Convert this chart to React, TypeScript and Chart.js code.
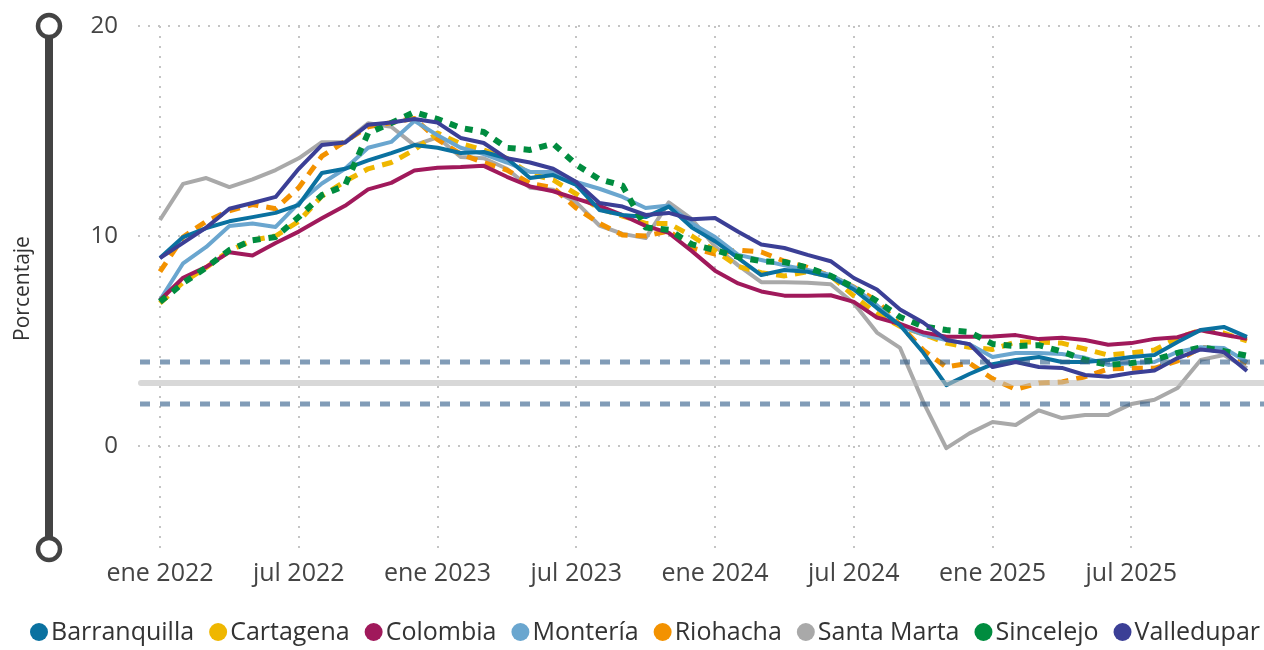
import { useEffect, useRef } from "react";
import { Chart, registerables } from "chart.js";

Chart.register(...registerables);

// ---- data -----------------------------------------------------------------
const monthIndex = Array.from({ length: 48 }, (_, i) => i); // ene 2022 .. dic 2025
const tickPositions = [0, 6, 12, 18, 24, 30, 36, 42];
const tickLabels = ["ene 2022", "jul 2022", "ene 2023", "jul 2023", "ene 2024", "jul 2024", "ene 2025", "jul 2025"];
const yTicks = [0, 10, 20];
const referenceLines = [4, 3, 2];

const barranquilla = [8.95, 9.95, 10.38, 10.7, 10.9, 11.1, 11.48, 13.0, 13.2, 13.6, 13.95, 14.33, 14.2, 13.95, 14.0, 13.7, 12.76, 12.9, 12.43, 11.24, 11.0, 10.9, 11.4, 10.4, 9.75, 8.95, 8.14, 8.38, 8.3, 8.05, 7.45, 6.57, 5.75, 4.45, 2.9, 3.43, 3.9, 4.1, 4.24, 4.0, 4.0, 4.1, 4.24, 4.33, 4.95, 5.52, 5.67, 5.2];
const cartagena = [6.8, 7.8, 8.5, 9.3, 9.8, 10.0, 10.7, 11.9, 12.6, 13.2, 13.5, 14.1, 14.9, 14.4, 14.1, 13.7, 12.95, 12.67, 12.0, 11.3, 10.95, 10.6, 10.6, 10.0, 9.3, 8.55, 8.25, 8.1, 8.3, 8.1, 7.15, 6.3, 5.7, 5.33, 4.9, 4.7, 4.6, 4.95, 4.95, 4.9, 4.62, 4.33, 4.43, 4.57, 5.14, 5.52, 5.38, 5.0];
const colombia = [6.94, 8.01, 8.53, 9.23, 9.07, 9.67, 10.21, 10.84, 11.44, 12.22, 12.53, 13.12, 13.25, 13.28, 13.34, 12.82, 12.36, 12.13, 11.78, 11.43, 10.99, 10.48, 10.15, 9.28, 8.35, 7.74, 7.36, 7.16, 7.16, 7.18, 6.86, 6.12, 5.81, 5.41, 5.2, 5.2, 5.22, 5.28, 5.09, 5.16, 5.05, 4.82, 4.9, 5.1, 5.18, 5.51, 5.3, 5.1];
const monteria = [6.95, 8.7, 9.48, 10.48, 10.6, 10.43, 11.57, 12.5, 13.2, 14.2, 14.48, 15.48, 14.8, 14.2, 13.9, 13.5, 13.05, 13.05, 12.57, 12.25, 11.86, 11.33, 11.45, 10.6, 9.95, 9.1, 8.86, 8.6, 8.38, 8.14, 7.57, 6.7, 5.72, 5.3, 5.05, 4.85, 4.24, 4.43, 4.43, 4.38, 4.2, 3.86, 3.95, 4.0, 4.48, 4.7, 4.67, 4.0];
const riohacha = [8.3, 9.95, 10.7, 11.2, 11.5, 11.3, 12.3, 13.8, 14.5, 15.2, 15.4, 15.6, 14.6, 13.9, 13.5, 13.14, 12.5, 12.3, 11.33, 10.6, 10.05, 10.0, 10.24, 9.43, 9.14, 9.33, 9.24, 8.8, 8.5, 8.1, 7.57, 6.9, 5.76, 4.57, 3.76, 3.95, 3.2, 2.7, 3.0, 3.05, 3.3, 3.67, 3.7, 3.7, 4.05, 4.7, 4.57, 3.95];
const santaMarta = [10.76, 12.48, 12.76, 12.33, 12.7, 13.14, 13.7, 14.47, 14.47, 15.37, 15.2, 14.33, 14.7, 13.76, 13.7, 13.2, 12.3, 12.2, 11.6, 10.5, 10.1, 9.9, 11.6, 10.8, 9.5, 8.6, 7.8, 7.8, 7.77, 7.7, 6.8, 5.4, 4.67, 2.1, -0.1, 0.6, 1.14, 1.0, 1.7, 1.33, 1.48, 1.48, 2.0, 2.2, 2.76, 4.1, 4.33, 3.7];
const sincelejo = [6.86, 7.76, 8.5, 9.33, 9.8, 9.95, 10.9, 11.95, 12.4, 14.9, 15.38, 15.9, 15.57, 15.15, 14.95, 14.2, 14.1, 14.4, 13.4, 12.7, 12.4, 10.4, 10.3, 9.6, 9.33, 9.0, 8.8, 8.76, 8.5, 8.1, 7.57, 6.9, 6.14, 5.7, 5.52, 5.43, 4.86, 4.76, 4.8, 4.5, 4.1, 3.86, 3.95, 4.1, 4.43, 4.7, 4.52, 4.3];
const valledupar = [8.95, 9.67, 10.4, 11.3, 11.57, 11.86, 13.2, 14.33, 14.45, 15.3, 15.4, 15.57, 15.4, 14.67, 14.43, 13.7, 13.5, 13.2, 12.57, 11.57, 11.4, 11.0, 11.1, 10.8, 10.86, 10.2, 9.6, 9.43, 9.1, 8.8, 8.0, 7.45, 6.5, 5.88, 5.05, 4.85, 3.76, 4.0, 3.76, 3.72, 3.38, 3.3, 3.48, 3.6, 4.19, 4.6, 4.48, 3.57];

const seriesNames = ["Barranquilla", "Cartagena", "Colombia", "Montería", "Riohacha", "Santa Marta", "Sincelejo", "Valledupar"];
const seriesValues = [barranquilla, cartagena, colombia, monteria, riohacha, santaMarta, sincelejo, valledupar];

// ---- styles ---------------------------------------------------------------
const FONT = '"Open Sans", "Noto Sans", sans-serif';
const seriesStyles = [
  { color: "#0a71a0", width: 4, dash: [] as number[], order: 3 },
  { color: "#efb700", width: 5, dash: [11, 8], order: 6 },
  { color: "#a0195b", width: 4, dash: [], order: 4 },
  { color: "#6aa6cf", width: 4, dash: [], order: 5 },
  { color: "#f39200", width: 5, dash: [11, 8], order: 7 },
  { color: "#a9a9a9", width: 4, dash: [], order: 8 },
  { color: "#008c3f", width: 6, dash: [8, 8], order: 2 },
  { color: "#3b3f96", width: 4, dash: [], order: 1 },
];
const refStyles = [
  { color: "rgba(45,90,135,0.6)", width: 5, dash: [10, 10], cap: "butt" as CanvasLineCap },
  { color: "rgba(190,190,190,0.6)", width: 6, dash: [] as number[], cap: "round" as CanvasLineCap },
  { color: "rgba(45,90,135,0.6)", width: 5, dash: [10, 10], cap: "butt" as CanvasLineCap },
];

const refLinesPlugin = {
  id: "refLines",
  afterDatasetsDraw(chart: any) {
    const { ctx, chartArea, scales } = chart;
    ctx.save();
    referenceLines.forEach((v, i) => {
      const st = refStyles[i];
      const y = scales.y.getPixelForValue(v);
      ctx.beginPath();
      ctx.strokeStyle = st.color;
      ctx.lineWidth = st.width;
      ctx.setLineDash(st.dash);
      ctx.lineCap = st.cap;
      ctx.moveTo(chartArea.left + (st.cap === "round" ? 3 : 2), y);
      ctx.lineTo(chart.width, y);
      ctx.stroke();
    });
    ctx.restore();
  },
};

const axisBarPlugin = {
  id: "axisBar",
  afterDraw(chart: any) {
    const { ctx, scales } = chart;
    const top = scales.y.getPixelForValue(20);
    const bottom = scales.y.getPixelForValue(-5) - 2;
    const x = 49;
    const r = 11;
    ctx.save();
    ctx.strokeStyle = "#444444";
    ctx.lineWidth = 8;
    ctx.beginPath();
    ctx.moveTo(x, top + r);
    ctx.lineTo(x, bottom - r);
    ctx.stroke();
    ctx.lineWidth = 4.5;
    [top, bottom].forEach((cy) => {
      ctx.beginPath();
      ctx.arc(x, cy, r, 0, Math.PI * 2);
      ctx.fillStyle = "#ffffff";
      ctx.fill();
      ctx.stroke();
    });
    ctx.restore();
  },
};

const legendPlugin = {
  id: "bottomLegend",
  afterDraw(chart: any) {
    const { ctx } = chart;
    const datasets = chart.data.datasets;
    ctx.save();
    ctx.font = `25px ${FONT}`;
    const r = 9;
    const gapIn = 3;
    const gapOut = 15;
    const widths = datasets.map((d: any) => ctx.measureText(d.label).width);
    let total = 0;
    widths.forEach((w: number) => (total += 2 * r + gapIn + w));
    total += gapOut * (datasets.length - 1);
    let x = 28 + (1234 - total) / 2;
    const y = 632;
    ctx.textBaseline = "middle";
    ctx.textAlign = "left";
    datasets.forEach((d: any, i: number) => {
      ctx.beginPath();
      ctx.fillStyle = d.borderColor;
      ctx.arc(x + r, y, r, 0, Math.PI * 2);
      ctx.fill();
      ctx.fillStyle = "#333333";
      ctx.fillText(d.label, x + 2 * r + gapIn, y + 1);
      x += 2 * r + gapIn + widths[i] + gapOut;
    });
    ctx.restore();
  },
};

export default function App() {
  const canvasRef = useRef<HTMLCanvasElement | null>(null);

  useEffect(() => {
    document.body.style.margin = "0";
    const canvas = canvasRef.current;
    if (!canvas) return;
    Chart.defaults.font.family = FONT;

    const datasets = seriesNames.map((name, i) => ({
      label: name,
      data: monthIndex.map((m) => ({ x: m, y: seriesValues[i][m] })),
      borderColor: seriesStyles[i].color,
      backgroundColor: seriesStyles[i].color,
      borderWidth: seriesStyles[i].width,
      borderDash: seriesStyles[i].dash,
      borderCapStyle: "butt" as const,
      borderJoinStyle: "round" as const,
      pointRadius: 0,
      tension: 0,
      fill: false,
      order: seriesStyles[i].order,
    }));

    const chart = new Chart(canvas, {
      type: "line",
      data: { datasets },
      options: {
        animation: false,
        responsive: false,
        devicePixelRatio: 1,
        layout: { padding: { top: 26, right: 2, bottom: 59, left: 0 } },
        plugins: {
          legend: { display: false },
          tooltip: { enabled: false },
        },
        scales: {
          x: {
            type: "linear",
            min: -0.95,
            max: 47.65,
            afterBuildTicks: (scale: any) => {
              scale.ticks = tickPositions.map((v) => ({ value: v }));
            },
            afterFit: (scale: any) => {
              scale.height = 40;
            },
            ticks: {
              autoSkip: false,
              maxRotation: 0,
              padding: 8,
              color: "#444444",
              font: { size: 25, family: FONT },
              callback: (value: any) => tickLabels[tickPositions.indexOf(Number(value))] ?? "",
            },
            grid: { color: "#c4c4c4", lineWidth: 2, drawTicks: false },
            border: { display: false, dash: [2, 8] },
          },
          y: {
            min: -5,
            max: 20,
            afterBuildTicks: (scale: any) => {
              scale.ticks = yTicks.map((v) => ({ value: v }));
            },
            afterFit: (scale: any) => {
              scale.width = 138;
              scale.paddingTop = 0;
              scale.paddingBottom = 0;
            },
            ticks: {
              padding: 20,
              color: "#444444",
              font: { size: 24, family: FONT },
            },
            title: {
              display: true,
              text: "Porcentaje",
              color: "#333333",
              font: { size: 21, family: FONT },
              padding: { top: 10, bottom: 0 },
            },
            grid: { color: "#c4c4c4", lineWidth: 2, drawTicks: false },
            border: { display: false, dash: [2, 8] },
          },
        },
      },
      plugins: [refLinesPlugin, axisBarPlugin, legendPlugin],
    });

    return () => {
      chart.destroy();
    };
  }, []);

  return (
    <div style={{ width: 1264, height: 650 }}>
      <canvas ref={canvasRef} width={1264} height={650} style={{ display: "block", width: 1264, height: 650 }} />
    </div>
  );
}
